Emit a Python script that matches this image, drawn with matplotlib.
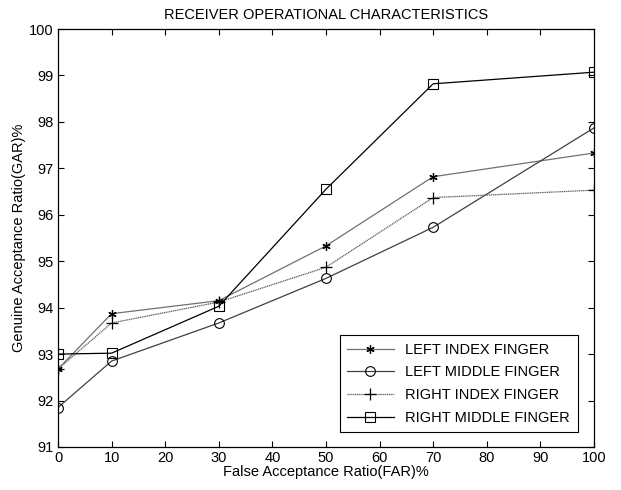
import matplotlib
matplotlib.use("Agg")
import matplotlib.pyplot as plt

plt.rcParams['font.family'] = ['Liberation Sans', 'DejaVu Sans']
plt.rcParams['font.size'] = 10.5

far = [0, 10, 30, 50, 70, 100]
left_index = [92.68, 93.87, 94.15, 95.33, 96.82, 97.33]
left_middle = [91.85, 92.85, 93.67, 94.63, 95.73, 97.87]
right_index = [92.68, 93.67, 94.12, 94.87, 96.37, 96.53]
right_middle = [93.0, 93.02, 94.03, 96.55, 98.82, 99.07]

fig = plt.figure(figsize=(6.21, 4.9), dpi=100)
ax = fig.add_axes([0.0934, 0.0878, 0.863, 0.853])

ax.plot(far, left_index, color='#707070', lw=0.9, marker=(6, 2, 0), ms=6, mec='black', mew=0.9,
        label='LEFT INDEX FINGER')
ax.plot(far, left_middle, color='#404040', lw=0.9, marker='o', ms=7, mfc='none', mec='black', mew=0.8,
        label='LEFT MIDDLE FINGER')
ax.plot(far, right_index, color='#606060', lw=0.9, ls=(0, (1, 0.5)), marker='+', ms=8, mec='black', mew=0.9,
        label='RIGHT INDEX FINGER')
ax.plot(far, right_middle, color='black', lw=0.9, marker='s', ms=7, mfc='none', mec='black', mew=0.8,
        label='RIGHT MIDDLE FINGER')

ax.set_xlim(0, 100)
ax.set_ylim(91, 100)
ax.set_xticks(range(0, 101, 10))
ax.set_yticks(range(91, 101))
ax.tick_params(direction='in', length=4, top=True, right=True, pad=3)
for s in ax.spines.values():
    s.set_linewidth(0.9)

ax.set_title('RECEIVER OPERATIONAL CHARACTERISTICS', fontsize=10.5, pad=7)
ax.set_xlabel('False Acceptance Ratio(FAR)%', labelpad=0)
ax.set_ylabel('Genuine Acceptance Ratio(GAR)%', labelpad=2)

leg = ax.legend(loc='lower right', bbox_to_anchor=(0.983, 0.018), fancybox=False, edgecolor='black',
                framealpha=1, handlelength=3.2, borderpad=0.5, labelspacing=0.6, fontsize=10.5)
leg.get_frame().set_linewidth(0.8)

fig.savefig('out.png', dpi=100)
